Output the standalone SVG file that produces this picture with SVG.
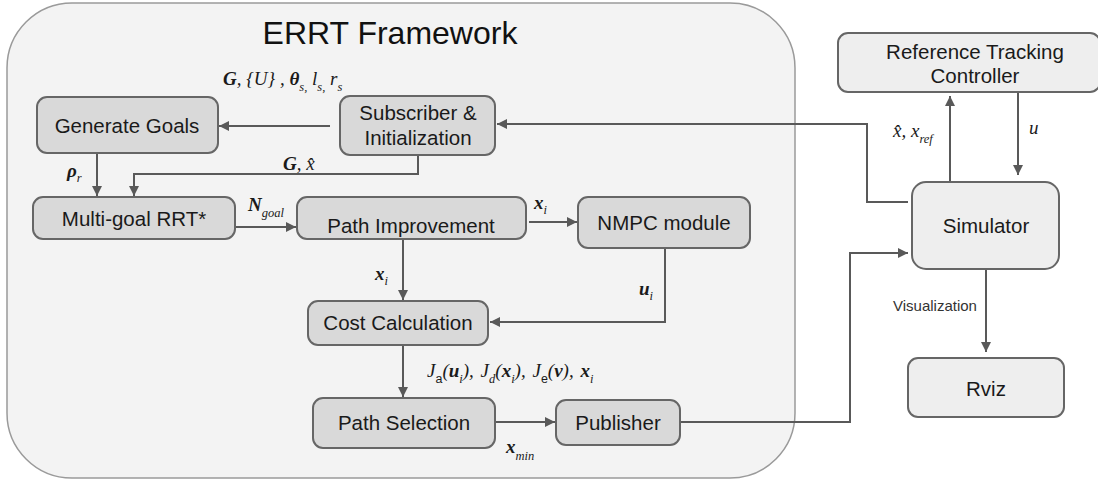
<svg xmlns="http://www.w3.org/2000/svg" width="1098" height="481" viewBox="0 0 1098 481">
<defs>
<marker id="ah" viewBox="0 0 10 10" refX="10" refY="5" markerWidth="10" markerHeight="10" markerUnits="userSpaceOnUse" orient="auto">
<path d="M0,0 L10,5 L0,10 z" fill="#595959"/>
</marker>
<style>
.frame{fill:#f3f3f3;stroke:#9a9a9a;stroke-width:1.5}
.inner{fill:#d9d9d9;stroke:#666;stroke-width:2}
.outer{fill:#eeeeee;stroke:#666;stroke-width:2}
.t{font-family:"Liberation Sans",Arial,sans-serif;font-size:20.5px;fill:#1a1a1a;text-anchor:middle}
.m{font-family:"Liberation Serif","Times New Roman",serif;font-style:italic;font-size:19px;fill:#1a1a1a}
.b{font-weight:bold}
.s{font-size:12.5px}
.c{fill:none;stroke:#595959;stroke-width:2}
</style>
</defs>
<rect class="frame" x="7" y="3" width="788" height="475" rx="65" ry="65"/>
<text x="390" y="44" font-family="Liberation Sans,Arial,sans-serif" font-size="32" fill="#111" text-anchor="middle">ERRT Framework</text>

<g id="connectors">
<line class="c" x1="330" y1="126" x2="219" y2="126" marker-end="url(#ah)"/>
<line class="c" x1="97" y1="153" x2="97" y2="196" marker-end="url(#ah)"/>
<polyline class="c" points="418,155 418,174 134,174 134,196" marker-end="url(#ah)"/>
<line class="c" x1="235" y1="227" x2="296" y2="227" marker-end="url(#ah)"/>
<line class="c" x1="529" y1="222" x2="577" y2="222" marker-end="url(#ah)"/>
<line class="c" x1="403" y1="239" x2="403" y2="300" marker-end="url(#ah)"/>
<polyline class="c" points="665,248 665,322 490,322" marker-end="url(#ah)"/>
<line class="c" x1="403" y1="345" x2="403" y2="397" marker-end="url(#ah)"/>
<line class="c" x1="495" y1="422" x2="555" y2="422" marker-end="url(#ah)"/>
<polyline class="c" points="680,422 850,422 850,253 908,253" marker-end="url(#ah)"/>
<polyline class="c" points="908,202 867,202 867,124 497,124" marker-end="url(#ah)"/>
<line class="c" x1="950" y1="181" x2="950" y2="96" marker-end="url(#ah)"/>
<line class="c" x1="1018" y1="92" x2="1018" y2="175" marker-end="url(#ah)"/>
<line class="c" x1="986" y1="269" x2="986" y2="352" marker-end="url(#ah)"/>
</g>

<g id="generate-goals"><rect class="inner" x="37" y="97" width="181" height="56" rx="10"/><text class="t" x="127" y="133">Generate Goals</text></g>
<g id="subscriber"><rect class="inner" x="340" y="96" width="155" height="59" rx="10"/><text class="t" x="418" y="120">Subscriber &amp;</text><text class="t" x="418" y="145">Initialization</text></g>
<g id="multigoal"><rect class="inner" x="33" y="197" width="202" height="42" rx="10"/><text class="t" x="134" y="226">Multi-goal RRT*</text></g>
<g id="path-improvement"><rect class="inner" x="297" y="197" width="229" height="42" rx="10"/><text class="t" x="411" y="233">Path Improvement</text></g>
<g id="nmpc"><rect class="inner" x="578" y="197" width="172" height="51" rx="10"/><text class="t" x="664" y="230">NMPC module</text></g>
<g id="cost"><rect class="inner" x="308" y="301" width="180" height="44" rx="10"/><text class="t" x="398" y="330">Cost Calculation</text></g>
<g id="path-selection"><rect class="inner" x="313" y="398" width="182" height="50" rx="10"/><text class="t" x="404" y="430">Path Selection</text></g>
<g id="publisher"><rect class="inner" x="556" y="400" width="124" height="45" rx="10"/><text class="t" x="618" y="430">Publisher</text></g>
<g id="rtc"><rect class="outer" x="838" y="33" width="262" height="59" rx="10"/><text class="t" x="975" y="59">Reference Tracking</text><text class="t" x="975" y="83">Controller</text></g>
<g id="simulator"><rect class="outer" x="912" y="182" width="147" height="87" rx="14"/><text class="t" x="986" y="233">Simulator</text></g>
<g id="rviz"><rect class="outer" x="908" y="358" width="156" height="59" rx="10"/><text class="t" x="986" y="396">Rviz</text></g>

<g id="labels">
<text class="m" x="223" y="85"><tspan class="b">G</tspan>, {<tspan>U</tspan>} , <tspan class="b">θ</tspan><tspan class="s" dy="6">s,</tspan><tspan dy="-6"> </tspan><tspan>l</tspan><tspan class="s" dy="6">s,</tspan><tspan dy="-6"> </tspan><tspan>r</tspan><tspan class="s" dy="6">s</tspan></text>
<text class="m" x="67" y="177"><tspan class="b">ρ</tspan><tspan class="s" dy="5">r</tspan></text>
<text class="m" x="283" y="170"><tspan class="b">G</tspan>, x̂</text>
<text class="m" x="248" y="211"><tspan class="b">N</tspan><tspan class="s" dy="6">goal</tspan></text>
<text class="m" x="534" y="209"><tspan class="b">x</tspan><tspan class="s" dy="5">i</tspan></text>
<text class="m" x="375" y="280"><tspan class="b">x</tspan><tspan class="s" dy="5">i</tspan></text>
<text class="m" x="639" y="295"><tspan class="b">u</tspan><tspan class="s" dy="5">i</tspan></text>
<text class="m" x="427" y="377" word-spacing="2">J<tspan class="s" dy="6" font-family="Liberation Sans,Arial,sans-serif" font-style="normal">a</tspan><tspan dy="-6">(</tspan><tspan class="b">u</tspan><tspan class="s" dy="6">i</tspan><tspan dy="-6">), J</tspan><tspan class="s" dy="6">d</tspan><tspan dy="-6">(</tspan><tspan class="b">x</tspan><tspan class="s" dy="6">i</tspan><tspan dy="-6">), J</tspan><tspan class="s" dy="6" font-family="Liberation Sans,Arial,sans-serif" font-style="normal">e</tspan><tspan dy="-6">(</tspan><tspan class="b">ν</tspan>), <tspan class="b">x</tspan><tspan class="s" dy="6">i</tspan></text>
<text class="m" x="506" y="453"><tspan class="b">x</tspan><tspan class="s" dy="7">min</tspan></text>
<text class="m" x="893" y="137">x̂, x<tspan class="s" dy="6">ref</tspan></text>
<text class="m" x="1029" y="134">u</text>
<text x="893" y="311" font-family="Liberation Sans,Arial,sans-serif" font-size="15" fill="#333">Visualization</text>
</g>
</svg>
